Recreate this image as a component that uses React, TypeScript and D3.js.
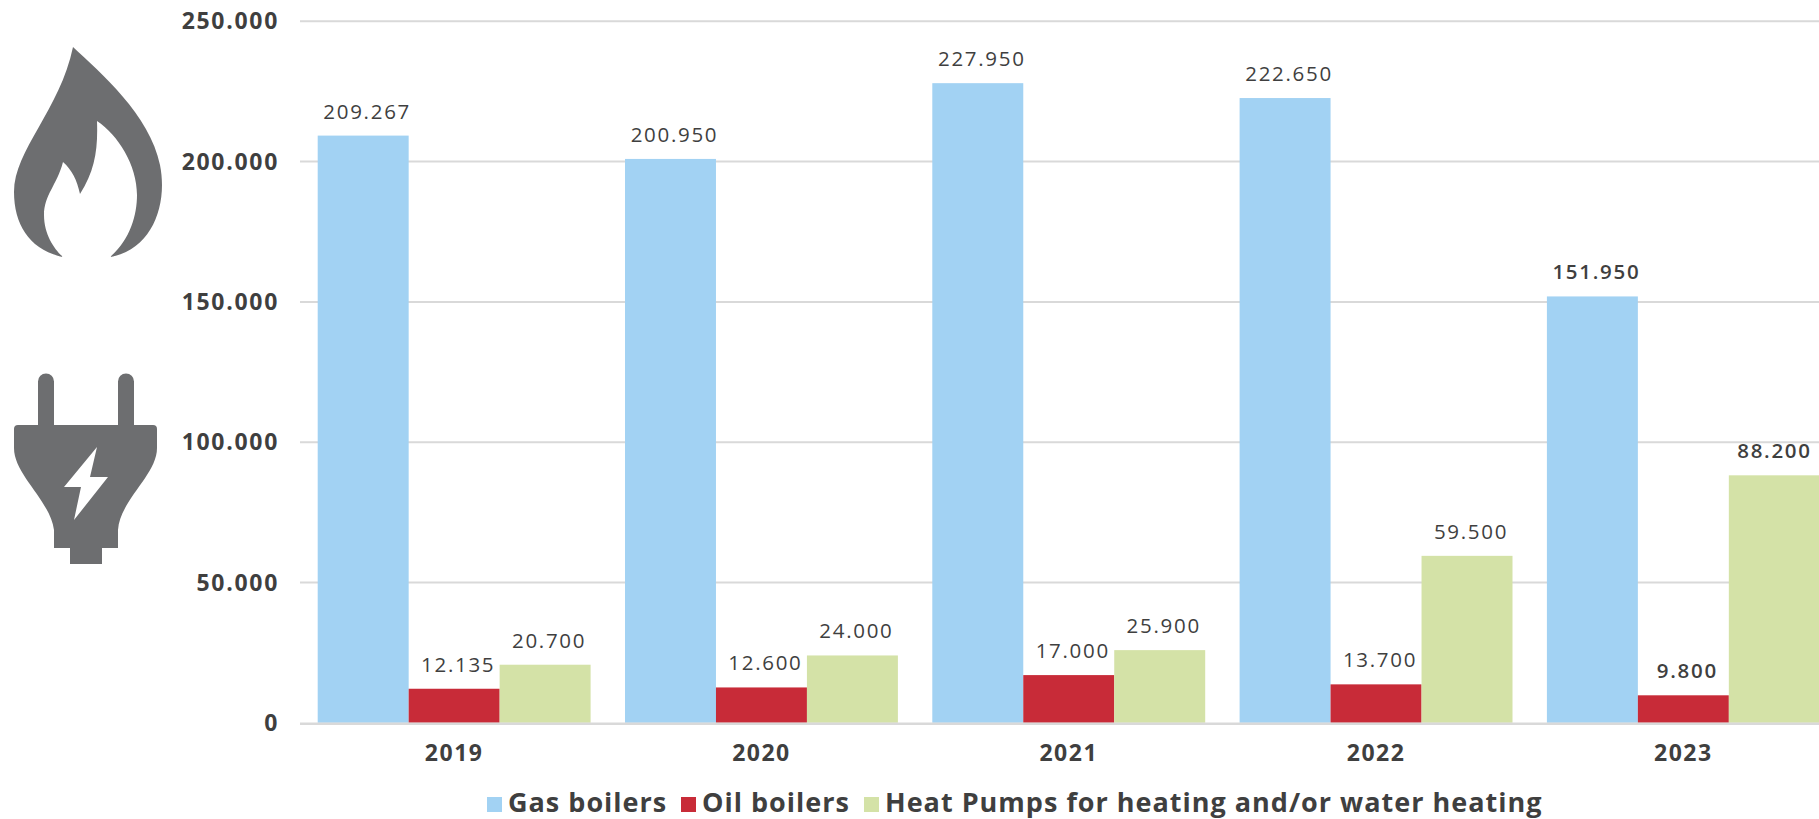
import React from "react";
import * as d3 from "d3";

const years = ["2019", "2020", "2021", "2022", "2023"];
const seriesNames = ["Gas boilers", "Oil boilers", "Heat Pumps for heating and/or water heating"];
const gasBoilers = [209267, 200950, 227950, 222650, 151950];
const oilBoilers = [12135, 12600, 17000, 13700, 9800];
const heatPumps = [20700, 24000, 25900, 59500, 88200];
const yTicks = [0, 50000, 100000, 150000, 200000, 250000];
const colors = ["#a2d2f3", "#c82b38", "#d4e2a7"];

const W = 1819, H = 819;
const FONT = "'Open Sans', sans-serif";
const TEXT = "#3f3f3f";
const GRID = "#d9d9d9";
const fmt = (v: number) => (v === 0 ? "0" : d3.format(",")(v).replace(/,/g, "."));

const FLAME = "M73 47 C100 72 150 115 160 165 C168 205 152 250 110 257 C130 240 137 215 137 195 C137 165 118 135 97 121 C98 150 95 170 80 194 C77 180 72 170 63 162 C57 185 44 195 44 215 C44 235 55 250 63 257 C30 250 14 225 14 192 C14 150 60 110 73 47 Z";
const PLUG = "M38 75 L38 31.5 A8 8 0 0 1 54 31.5 L54 75 L118 75 L118 31.5 A8 8 0 0 1 134 31.5 L134 75 L153 75 Q157 75 157 79 L157 98 C157 125 120 150 118 180 L118 198 L102 198 L102 214 L70 214 L70 198 L54 198 L54 180 C50 150 14 125 14 98 L14 79 Q14 75 18 75 Z M97 97 L64 137 L81 137 L74 170 L108 127 L90 127 Z";

export default function App() {
  const x0 = d3.scaleBand<string>().domain(years).range([300.5, 1837]);
  const x1 = d3.scaleBand<number>().domain([0, 1, 2]).range([17.2, 290.1]);
  const y = d3.scaleLinear().domain([0, 250000]).range([722.8, 21.3]);
  const all = [gasBoilers, oilBoilers, heatPumps];
  return (
    <svg width={W} height={H} style={{ position: "absolute", left: 0, top: 0, background: "#fff" }} fontFamily={FONT}>
      <g fill="#6d6e70">
        <path d={FLAME} />
        <path d={PLUG} fillRule="evenodd" transform="translate(0,350)" />
      </g>
      {yTicks.map((t) => (
        <g key={t}>
          {t > 0 && <line x1={300} x2={W} y1={y(t)} y2={y(t)} stroke={GRID} strokeWidth={2} />}
          <text x={279} y={y(t) + 8} textAnchor="end" fontSize={23} fontWeight={700} fill={TEXT} letterSpacing={1.7}>{fmt(t)}</text>
        </g>
      ))}
      {years.map((yr, i) => (
        <g key={yr}>
          {all.map((vals, s) => (
            <rect key={s} x={x0(yr)! + x1(s)!} width={x1.bandwidth()} y={y(vals[i])} height={y(0) - y(vals[i])} fill={colors[s]} />
          ))}
          <text x={x0(yr)! + x0.bandwidth() / 2} y={761} textAnchor="middle" fontSize={23} fontWeight={700} fill={TEXT} letterSpacing={1.5}>{yr}</text>
        </g>
      ))}
      <line x1={300} x2={W} y1={y(0) + 1} y2={y(0) + 1} stroke={GRID} strokeWidth={2.5} />
      {years.map((yr, i) =>
        all.map((vals, s) => {
          const cx = x0(yr)! + x1(s)! + x1.bandwidth() / 2 + 4;
          return (
            <text key={yr + s} x={Math.min(cx, 1774.5)} y={y(vals[i]) - 17} textAnchor="middle" fontSize={20.5} fontWeight={i === 4 ? 600 : 400} fill={TEXT} letterSpacing={1.7}>{fmt(vals[i])}</text>
          );
        })
      )}
      {[487, 681, 864].map((lx, i) => (
        <g key={i}>
          <rect x={lx} y={797} width={15} height={15} fill={colors[i]} />
          <text x={lx + 21} y={812} fontSize={27} fontWeight={700} fill={TEXT} letterSpacing={1}>{seriesNames[i]}</text>
        </g>
      ))}
    </svg>
  );
}
